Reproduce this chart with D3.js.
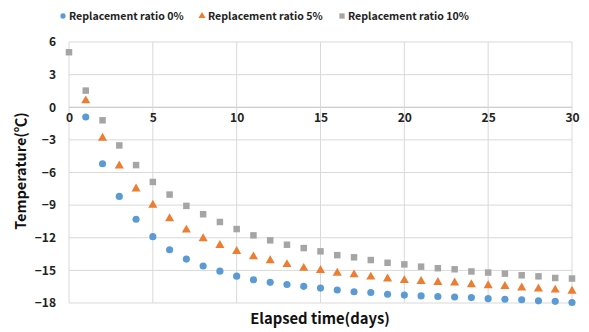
<!DOCTYPE html>
<html><head><meta charset="utf-8">
<script src="https://cdn.jsdelivr.net/npm/d3@7"></script>
<style>body{margin:0;background:#fff}text{font-family:"Noto Sans CJK KR","Noto Sans",sans-serif;font-weight:bold}</style>
</head><body><svg id="c" width="589" height="332"></svg>
<script>
const seriesNames = ["Replacement ratio 0%","Replacement ratio 5%","Replacement ratio 10%"];
const days0 = d3.range(1,31);
const days5 = d3.range(1,31);
const days10 = d3.range(0,31);
const ratio0 = [-0.9,-5.2,-8.2,-10.3,-11.9,-13.1,-13.96,-14.6,-15.07,-15.53,-15.86,-16.1,-16.3,-16.47,-16.63,-16.8,-16.97,-17.03,-17.2,-17.27,-17.35,-17.4,-17.45,-17.5,-17.6,-17.65,-17.7,-17.8,-17.85,-17.95];
const ratio5 = [0.6,-2.83,-5.38,-7.5,-9.0,-10.24,-11.28,-12.08,-12.7,-13.25,-13.74,-14.1,-14.45,-14.8,-15.0,-15.25,-15.4,-15.6,-15.77,-15.93,-16.0,-16.1,-16.15,-16.3,-16.4,-16.46,-16.6,-16.7,-16.8,-16.9];
const ratio10 = [5.06,1.53,-1.2,-3.51,-5.32,-6.87,-8.03,-9.07,-9.84,-10.55,-11.2,-11.78,-12.24,-12.64,-12.95,-13.25,-13.6,-13.8,-14.05,-14.3,-14.45,-14.66,-14.8,-14.9,-15.1,-15.2,-15.3,-15.45,-15.55,-15.7,-15.75];
const xTicks = [0,5,10,15,20,25,30];
const yTicks = [6,3,0,-3,-6,-9,-12,-15,-18];
const colors = ["#5B9BD5","#ED7D31","#A5A5A5"];

const svg = d3.select("#c");
const x = d3.scaleLinear().domain([0,30]).range([69,572]);
const y = d3.scaleLinear().domain([-18,6]).range([303,42]);

const g = svg.append("g");
g.selectAll(".hg").data(yTicks).join("line")
  .attr("x1",x(0)).attr("x2",x(30)).attr("y1",d=>y(d)).attr("y2",d=>y(d))
  .attr("stroke",d=>d===0?"#bfbfbf":"#d9d9d9").attr("stroke-width",1);
g.selectAll(".vg").data(xTicks).join("line")
  .attr("x1",d=>x(d)).attr("x2",d=>x(d)).attr("y1",y(6)).attr("y2",y(-18))
  .attr("stroke","#d9d9d9").attr("stroke-width",1);

const yAxis = svg.append("g").attr("transform",`translate(${x(0)},0)`)
  .call(d3.axisLeft(y).tickValues(yTicks).tickSize(0).tickPadding(13));
yAxis.select(".domain").remove();
yAxis.selectAll("text").attr("font-size",12).attr("fill","#222")
  .style("font-family","'Noto Sans CJK KR',sans-serif").style("font-weight","bold");

const xAxis = svg.append("g").attr("transform",`translate(0,${y(0)})`)
  .call(d3.axisBottom(x).tickValues(xTicks).tickSize(0).tickPadding(6));
xAxis.select(".domain").remove();
xAxis.selectAll("text").attr("font-size",12).attr("fill","#222")
  .style("font-family","'Noto Sans CJK KR',sans-serif").style("font-weight","bold");

const series = [
  {days:days0, vals:ratio0, shape:"circle"},
  {days:days5, vals:ratio5, shape:"triangle"},
  {days:days10, vals:ratio10, shape:"square"}
];
const sym = {circle:d3.symbolCircle, triangle:d3.symbolTriangle, square:d3.symbolSquare};
const size = {circle:40, triangle:36, square:42};
series.forEach((s,i)=>{
  const pts = s.days.map((d,j)=>[d,s.vals[j]]);
  svg.append("g").selectAll("path").data(pts).join("path")
    .attr("d", d3.symbol(sym[s.shape], size[s.shape]))
    .attr("transform", d=>`translate(${x(d[0])},${y(d[1])})`)
    .attr("fill", colors[i]);
});

const legX = [63,202,342];
seriesNames.forEach((n,i)=>{
  const shape = series[i].shape;
  svg.append("path").attr("d", d3.symbol(sym[shape], shape==="circle"?22:shape==="triangle"?22:28))
    .attr("transform",`translate(${legX[i]},16)`).attr("fill",colors[i]);
  svg.append("text").attr("x",legX[i]+6).attr("y",20).attr("font-size",10.6).attr("fill","#222").text(n);
});

svg.append("text").attr("x",320).attr("y",324).attr("text-anchor","middle").attr("font-size",14.8).attr("fill","#111").text("Elapsed time(days)");
svg.append("text").attr("transform",`translate(26,171) rotate(-90)`).attr("text-anchor","middle").attr("font-size",14.5).attr("fill","#111").text("Temperature(℃)");
</script></body></html>
